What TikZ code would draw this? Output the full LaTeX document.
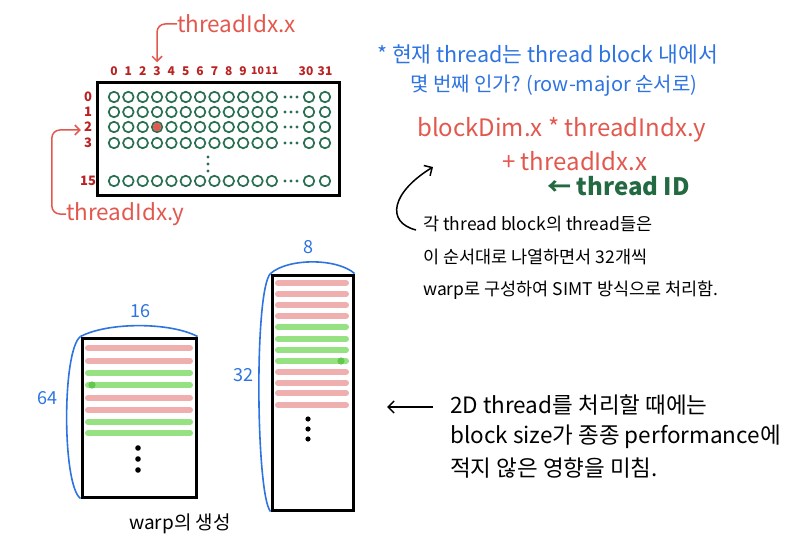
\documentclass[tikz,border=0pt]{standalone}
\usepackage{fontspec}
\setmainfont{Noto Sans CJK KR}
\usepackage{xcolor}
\usetikzlibrary{positioning, arrows.meta, calc}

\definecolor{inkblue}{RGB}{45,115,225}
\definecolor{inkred}{RGB}{226,88,78}
\definecolor{numred}{RGB}{185,35,35}
\definecolor{idgreen}{RGB}{35,105,65}
\definecolor{dotgreen}{RGB}{40,110,80}
\definecolor{dotred}{RGB}{225,90,80}
\definecolor{barred}{RGB}{240,175,175}
\definecolor{bargreen}{RGB}{150,225,130}
\definecolor{dotlime}{RGB}{100,200,80}

\begin{document}
\begin{tikzpicture}[
    x=1pt, y=-1pt,
    thr/.style={circle, draw=dotgreen, line width=1.7pt, minimum size=10.5pt, inner sep=0pt},
    colnum/.style={text=numred, inner sep=0pt, font=\bfseries\fontsize{12}{12}\selectfont},
    rownum/.style={text=numred, inner sep=0pt, font=\bfseries\fontsize{13}{13}\selectfont},
    idxlabel/.style={text=inkred, anchor=west, inner sep=0pt, font=\fontsize{22.5}{22.5}\selectfont},
    note/.style={text=inkblue, anchor=west, inner sep=0pt, font=\fontsize{20}{20}\selectfont},
    formula/.style={text=inkred, anchor=west, inner sep=0pt, font=\fontsize{24}{24}\selectfont},
    memo/.style={anchor=west, inner sep=0pt, font=\fontsize{17.5}{17.5}\selectfont},
    bigmemo/.style={anchor=west, inner sep=0pt, font=\fontsize{22.5}{22.5}\selectfont},
    block/.style={draw, line width=3pt, rectangle, fill=white, inner sep=0pt},
    bar/.style={line width=6pt, line cap=round},
    brace/.style={draw=inkblue, line width=1.6pt},
    dimnum/.style={text=inkblue, inner sep=0pt, font=\fontsize{18}{18}\selectfont},
    redarrow/.style={draw=inkred, line width=1.5pt, -{Straight Barb[length=5pt]}},
    inkarrow/.style={draw=black, line width=1.5pt, -{Straight Barb[length=6pt]}}
]
    \useasboundingbox (0,0) rectangle (794,540);

    % ================= THREAD BLOCK GRID =================
    \node[block, minimum width=242pt, minimum height=113pt] (grid) at (218.5,139) {};

    % --- column indices (threadIdx.x) ---
    \foreach \c in {0,...,9}
        \node[colnum] (col\c) at ({114+14.35*\c},71) {\c};
    \foreach \c in {10,11}
        \node[colnum, font=\bfseries\fontsize{10.5}{10.5}\selectfont] (col\c) at ({114+14.35*\c},71) {\c};
    \node[colnum] (col30) at (306,71) {30};
    \node[colnum] (col31) at (325,71) {31};

    % --- threads, one row at a time ---
    \foreach \r/\y in {0/97, 1/112, 2/127, 3/143, 15/181} {
        \node[rownum] (row\r) at (88,\y) {\r};
        \foreach \c in {0,...,11}
            \node[thr] (t-\r-\c) at ({114+14.35*\c},\y) {};
        \node[thr] (t-\r-30) at (309,\y) {};
        \node[thr] (t-\r-31) at (325,\y) {};
        \foreach \dx in {285,291,297}
            \fill[dotgreen] (\dx,\y) circle (1.7);
    }
    \foreach \dy in {157,164,171}
        \fill[dotgreen] (208,\dy) circle (1.7);

    % current thread
    \fill[dotred] (t-2-3.center) circle (4.3);

    % --- index labels ---
    \node[idxlabel] (tx) at (177,24) {threadIdx.x};
    \node[idxlabel] (ty) at (66,214) {threadIdx.y};

    \draw[redarrow, rounded corners=8pt] (tx.west) -| ($(col3.north)+(0,-4)$);
    \draw[redarrow, rounded corners=8pt] (ty.west) -| ($(row2.west)+(-32,3)$) -- ($(row2.west)+(-3,3)$);

    % ================= THREAD ID NOTE =================
    \node[note, font=\fontsize{21.5}{21.5}\selectfont] (q1) at (377,54) {* 현재 thread는 thread block 내에서};
    \node[note] (q2) at (410,86) {몇 번째 인가? (row-major 순서로)};

    \node[formula] (f1) at (417,130) {blockDim.x * threadIndx.y};
    \node[formula] (f2) at (502,161) {+ threadIdx.x};
    \node[text=idgreen, anchor=west, inner sep=0pt, font=\bfseries\fontsize{24}{24}\selectfont] (tid) at (547,186) {← thread ID};

    % --- warp note ---
    \node[memo] (p1) at (423,224) {각 thread block의 thread들은};
    \node[memo] (p2) at (423,257) {이 순서대로 나열하면서 32개씩};
    \node[memo] (p3) at (423,290) {warp로 구성하여 SIMT 방식으로 처리함.};

    \coordinate (fhook) at (433,167);
    \draw[inkarrow] ($(p1.west)+(-7,6)$) .. controls (385,222) and (392,192) .. (fhook);

    % ================= BLOCK SHAPES =================
    \node[block, minimum width=114pt, minimum height=159pt] (lbox) at (139,417.5) {};
    \node[block, minimum width=81pt, minimum height=235pt] (rbox) at (312.5,392.5) {};

    % --- 16 x 64 block ---
    \foreach \y/\col in {348/barred, 361/barred, 373/bargreen, 385/bargreen,
                         398/barred, 410/barred, 422/bargreen, 433/bargreen}
        \draw[bar, draw=\col] (88,\y) -- (190,\y);
    \fill[dotlime] (92,385) circle (3.6);
    \foreach \dy in {448,459,470}
        \fill (138,\dy) circle (2.8);

    \draw[brace] (lbox.north west) .. controls (108,322) and (170,322) .. (lbox.north east);
    \draw[brace] (lbox.north west) .. controls (62,350) and (62,485) .. (lbox.south west);
    \node[dimnum] (w16) at (140,311) {16};
    \node[dimnum] (h64) at (47,398) {64};

    % --- 8 x 32 block ---
    \foreach \y/\col in {283/barred, 294/barred, 305/barred, 316/barred,
                         327/bargreen, 339/bargreen, 350/bargreen, 361/bargreen,
                         372/barred, 383/barred, 393/barred, 405/barred}
        \draw[bar, draw=\col] (278,\y) -- (346,\y);
    \fill[dotlime] (341,361) circle (3.6);
    \foreach \dy in {419,429,439}
        \fill (308,\dy) circle (2.6);

    \draw[brace] (rbox.north west) .. controls (288,258) and (337,258) .. (rbox.north east);
    \draw[brace] (rbox.north west) .. controls (254,290) and (256,495) .. (rbox.south west);
    \node[dimnum] (w8) at (308,247) {8};
    \node[dimnum] (h32) at (243,375) {32};

    \node[inner sep=0pt, font=\fontsize{19}{19}\selectfont] (cap) at (180,524) {warp의 생성};

    % ================= BLOCK SIZE NOTE =================
    \node[bigmemo] (b1) at (450,405) {2D thread를 처리할 때에는};
    \node[bigmemo] (b2) at (450,437) {block size가 종종 performance에};
    \node[bigmemo] (b3) at (450,468) {적지 않은 영향을 미침.};

    \coordinate (bpoint) at (387,407);
    \draw[inkarrow] ($(b1.west)+(-17,2)$) -- (bpoint);

\end{tikzpicture}
\end{document}
